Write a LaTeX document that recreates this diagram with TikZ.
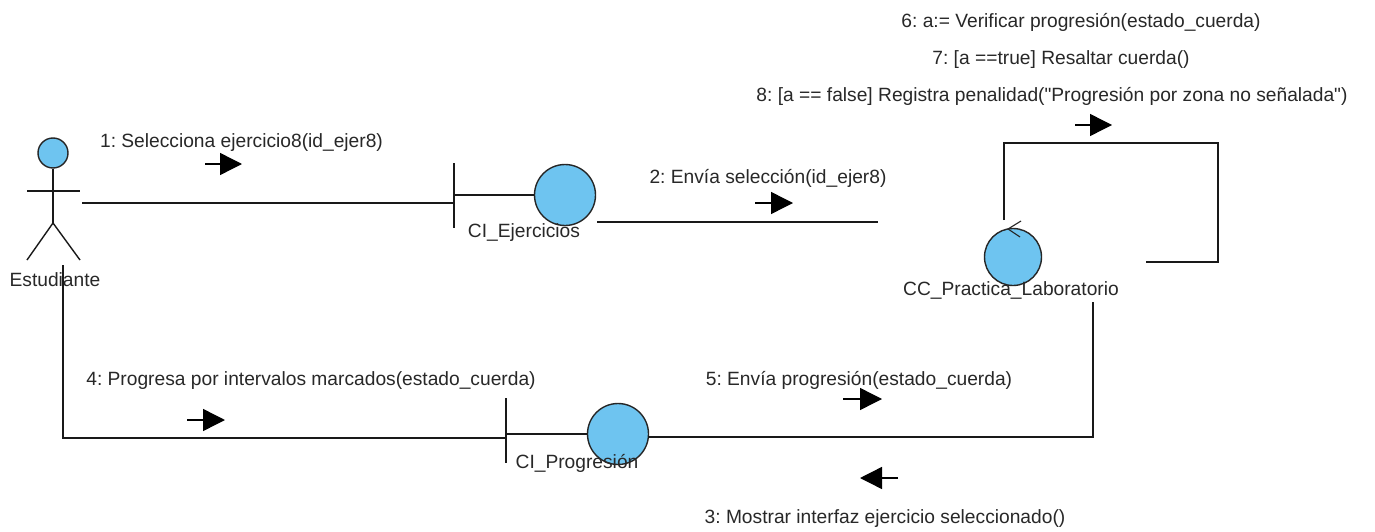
\documentclass[tikz,border=0pt]{standalone}
\usepackage{fontspec}
\setmainfont{Liberation Sans}
% plain family without TeX quote mapping, so " stays a straight quote
\newfontfamily\lbfont{Liberation Sans}
\usetikzlibrary{arrows.meta}
\definecolor{objblue}{RGB}{110,196,240}
\definecolor{txt}{RGB}{40,40,40}
\frenchspacing
\begin{document}
\begin{tikzpicture}[x=1pt,y=-1pt,
  line/.style={draw=black!90, line width=1.4pt},
  obj/.style={circle, draw=black!85, line width=1.4pt, fill=objblue,
              minimum size=61pt, inner sep=0pt},
  lbl/.style={font=\lbfont\fontsize{19.2}{22}\selectfont, text=txt, inner sep=0pt, anchor=base},
  msg/.style={draw=black, line width=1.4pt, -{Triangle[length=22pt,width=22pt]}}
]
\fill[white] (0,0) rectangle (1375,532);
\useasboundingbox (0,0) rectangle (1375,532);

% --- actor: Estudiante
\node[circle, draw=black!85, fill=objblue, line width=1.4pt,
      minimum size=30pt, inner sep=0pt] (head) at (53,153) {};
\coordinate (hip) at (53,223);
\coordinate (armL) at (27,191);
\coordinate (armR) at (80,191);
\coordinate (legL) at (27,260);
\coordinate (legR) at (80,260);
\draw[line] (head.south) -- (hip);
\draw[line] (armL) -- (armR);
\draw[line] (legL) -- (hip) -- (legR);
\node[lbl] (estud) at (55,286) {Estudiante};

% --- boundary object CI_Ejercicios
\node[obj] (ej) at (565,195) {};
\coordinate (ejBt) at (454,163);
\coordinate (ejBb) at (454,228);
\draw[line] (ejBt) -- (ejBb);
\draw[line] (ej.west) -- (ej.west -| ejBt);
\node[lbl] (ejLbl) at (524,237) {CI\_Ejercicios};

% --- control object CC_Practica_Laboratorio
\node[obj, minimum size=57pt] (cc) at (1013,257) {};
\coordinate (ctlA) at (1021,221);
\coordinate (ctlB) at (1008,229);
\coordinate (ctlC) at (1020,237);
\draw[draw=black!85, line width=1.1pt] (ctlA) -- (ctlB) -- (ctlC);
\node[lbl] (ccLbl) at (1011,295) {CC\_Practica\_Laboratorio};

% --- boundary object CI_Progresion
\node[obj] (pr) at (618,434) {};
\coordinate (prBt) at (506,398);
\coordinate (prBb) at (506,463);
\draw[line] (prBt) -- (prBb);
\draw[line] (pr.west) -- (pr.west -| prBt);
\node[lbl] (prLbl) at (577,468) {CI\_Progresión};

% --- links
\coordinate (actR) at (82,203);
\draw[line] (actR) -- (actR -| ejBt);
\coordinate (ejR) at (597,222);
\coordinate (ccL) at (878,222);
\draw[line] (ejR) -- (ccL);
\coordinate (loopS) at (1004,220);
\coordinate (loopE) at (1146,262);
\draw[line] (loopS) -- (1004,143) -- (1218,143) -- (1218,262) -- (loopE);
\coordinate (ccB) at (1093,302);
\coordinate (prR) at (648,437);
\draw[line] (ccB) |- (prR);
\coordinate (actB) at (63,265);
\coordinate (prL) at (506,438);
\draw[line] (actB) |- (prL);

% --- messages
\node[lbl] (t1) at (241.5,147) {1: Selecciona ejercicio8(id\_ejer8)};
\node[lbl] (t2) at (768,183) {2: Envía selección(id\_ejer8)};
\node[lbl] (t3) at (885,523) {3: Mostrar interfaz ejercicio seleccionado()};
\node[lbl] (t4) at (311,385) {4: Progresa por intervalos marcados(estado\_cuerda)};
\node[lbl] (t5) at (859,385) {5: Envía progresión(estado\_cuerda)};
\node[lbl] (t6) at (1081,28) {6: a:= Verificar progresión(estado\_cuerda)};
\node[lbl] (t7) at (1061,65) {7: [a ==true] Resaltar cuerda()};
\node[lbl] (t8) at (1052,102) {8: [a == false] Registra penalidad("Progresión por zona no señalada")};

\coordinate (m1) at (205,164);
\coordinate (m2) at (755,203);
\coordinate (m3) at (898,478);
\coordinate (m4) at (187,420);
\coordinate (m5) at (843,399);
\coordinate (m8) at (1075,125);
\draw[msg] (m1) -- ++(37,0);
\draw[msg] (m2) -- ++(38,0);
\draw[msg] (m3) -- ++(-38,0);
\draw[msg] (m4) -- ++(38,0);
\draw[msg] (m5) -- ++(39,0);
\draw[msg] (m8) -- ++(37,0);
\end{tikzpicture}
\end{document}
